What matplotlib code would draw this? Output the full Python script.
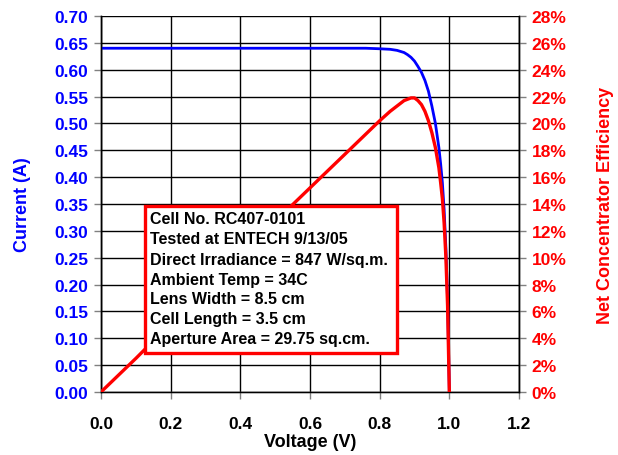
import matplotlib
matplotlib.use("Agg")
import matplotlib.pyplot as plt
from matplotlib.patches import Rectangle
from matplotlib.ticker import MultipleLocator, FuncFormatter

plt.rcParams['font.family'] = ['Liberation Sans', 'DejaVu Sans']
plt.rcParams['font.weight'] = 'bold'

voltage = [0.0, 0.1, 0.2, 0.3, 0.4, 0.5, 0.6, 0.7, 0.76, 0.8, 0.83, 0.85, 0.87, 0.88, 0.89,
           0.90, 0.91, 0.92, 0.93, 0.94, 0.95, 0.96, 0.97, 0.975, 0.98, 0.985, 0.99, 0.995, 1.0]
current = [0.640, 0.640, 0.640, 0.640, 0.640, 0.640, 0.640, 0.640, 0.640, 0.639, 0.638, 0.636, 0.632, 0.628, 0.623,
           0.616, 0.606, 0.595, 0.580, 0.560, 0.532, 0.500, 0.455, 0.425, 0.390, 0.340, 0.270, 0.170, 0.0]
efficiency = [0.0, 2.5, 5.1, 7.6, 10.1, 12.7, 15.2, 17.7, 19.2, 20.2, 20.9, 21.3, 21.7, 21.8, 21.9,
              21.9, 21.7, 21.4, 20.9, 20.2, 19.3, 18.2, 16.7, 15.6, 14.4, 12.6, 10.1, 6.4, 0.0]

info_lines = ["Cell No. RC407-0101", "Tested at ENTECH 9/13/05",
              "Direct Irradiance = 847 W/sq.m.", "Ambient Temp = 34C",
              "Lens Width = 8.5 cm", "Cell Length = 3.5 cm",
              "Aperture Area = 29.75 sq.cm."]

W, H = 618, 456
fig = plt.figure(figsize=(W / 100, H / 100), dpi=100)
ax = fig.add_axes([101 / W, 1 - 393 / H, (519 - 101) / W, (393 - 17) / H])
ax2 = ax.twinx()

ax.set_xlim(0, 1.2)
ax.set_ylim(0, 0.70)
ax2.set_ylim(0, 28)

ax.xaxis.set_major_locator(MultipleLocator(0.2))
ax.yaxis.set_major_locator(MultipleLocator(0.05))
ax2.yaxis.set_major_locator(MultipleLocator(2))
ax.xaxis.set_major_formatter(FuncFormatter(lambda v, p: f"{v:.1f}"))
ax.yaxis.set_major_formatter(FuncFormatter(lambda v, p: f"{v:.2f}"))
ax2.yaxis.set_major_formatter(FuncFormatter(lambda v, p: f"{v:.0f}%"))

ax.grid(True, color='black', linewidth=1.0)
ax.set_axisbelow(True)

for a in (ax, ax2):
    for s in a.spines.values():
        s.set_color('black')
        s.set_linewidth(1.0)
    a.spines['top'].set_visible(False)
ax.spines['bottom'].set_color('#808080')

tick_col = '#808080'
ax.tick_params(axis='x', colors=tick_col, labelcolor='black', labelsize=12.5, length=5, width=1, direction='out', pad=12)
ax.tick_params(axis='y', colors=tick_col, labelcolor='blue', labelsize=12.5, length=5, width=1, direction='out', pad=4)
ax2.tick_params(axis='y', colors=tick_col, labelcolor='red', labelsize=12.5, length=5, width=1, direction='out', pad=4)
for lab in ax.get_xticklabels() + ax.get_yticklabels() + ax2.get_yticklabels():
    lab.set_fontweight('bold')

ax.plot(voltage, current, color='blue', linewidth=2.0, zorder=3)
ax2.plot(voltage, efficiency, color='red', linewidth=2.4, zorder=3)

ax.set_xlabel("Voltage (V)", fontsize=13, fontweight='bold', color='black', labelpad=2)
ax.set_ylabel("Current (A)", fontsize=13, fontweight='bold', color='blue', labelpad=17)
ax2.set_ylabel("Net Concentrator Efficiency", fontsize=13, fontweight='bold', color='red', labelpad=22)

# info box in figure pixel coordinates
bx0, bx1, by0, by1 = 145, 397, 207, 354
rect = Rectangle((bx0 / W, 1 - by1 / H), (bx1 - bx0) / W, (by1 - by0) / H,
                 transform=fig.transFigure, facecolor='white', edgecolor='red',
                 linewidth=2.4, zorder=10)
fig.add_artist(rect)
for i, line in enumerate(info_lines):
    fig.text(150 / W, 1 - (220 + 20 * i) / H, line, fontsize=11.5, fontweight='bold',
             color='black', va='center', ha='left', zorder=11)

fig.savefig("out.png", dpi=100)
